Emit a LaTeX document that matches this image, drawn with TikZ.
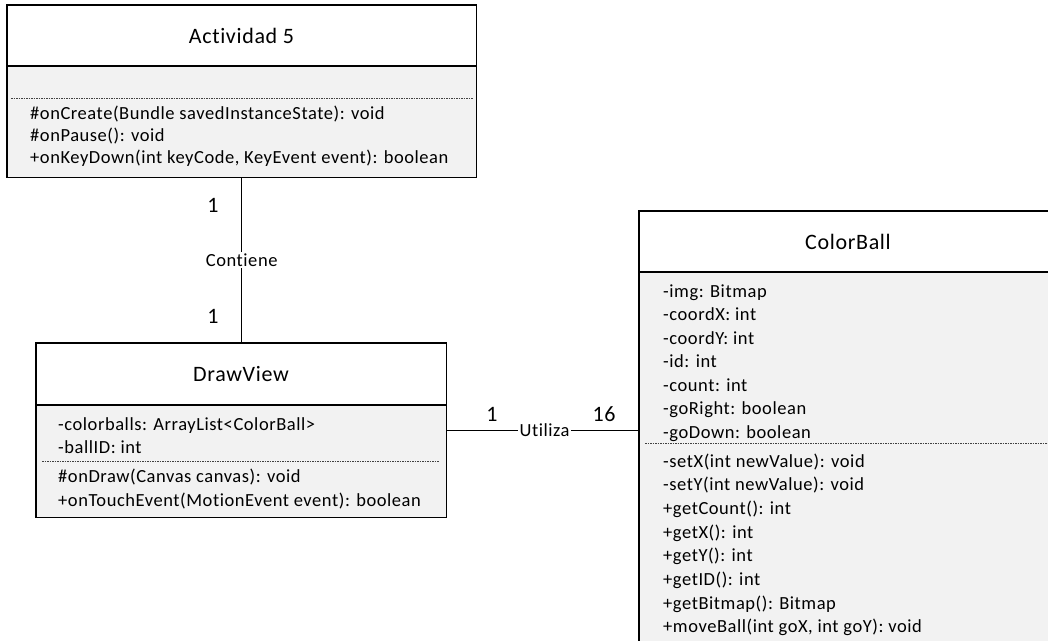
\documentclass[tikz,border=0pt]{standalone}
\usepackage{fontspec}
\setmainfont{Carlito}[Ligatures=NoCommon, LetterSpace=3]
\definecolor{bodygray}{HTML}{F2F2F2}
\definecolor{dotgray}{HTML}{404040}
\begin{document}
\begin{tikzpicture}[x=1pt,y=-1pt,
  classfill/.style={fill=bodygray, inner sep=0pt, anchor=north west},
  classline/.style={draw=black, line width=1.4pt},
  sepdot/.style={draw=dotgray, line width=0.7pt, dash pattern=on 1.6pt off 0.9pt},
  ttl/.style={anchor=base, inner sep=0pt, font=\fontsize{22}{26}\selectfont},
  mem/.style={anchor=base west, inner sep=0pt, font=\fontsize{18.5}{22}\selectfont},
  mult/.style={anchor=base, inner sep=0pt, font=\fontsize{22}{26}\selectfont},
  rel/.style={fill=white, inner sep=1.5pt, font=\fontsize{18.5}{22}\selectfont},
  conn/.style={draw=black, line width=1.2pt}]
\clip (0,0) rectangle (1048,640);
\fill[white] (0,0) rectangle (1048,640);

% ---- class Actividad 5 ----
\node[classfill, minimum width=469pt, minimum height=172pt] (act) at (7,5) {};
\fill[white] (7,5) rectangle (476,66);
\draw[classline] (7,66) -- (476,66);
\draw[classline] (act.north west) rectangle (act.south east);
\node[ttl] (actT) at (241.5,43) {Actividad 5};
\draw[sepdot] (11,98) -- (473,98);
\foreach \t [count=\i] in {\#onCreate(Bundle savedInstanceState): void,
    \#onPause(): void,
    {+onKeyDown(int keyCode, KeyEvent event): boolean}}
  \node[mem] (actM\i) at (30,{119.3+(\i-1)*22.3}) {\t};

% ---- class DrawView ----
\node[classfill, minimum width=410pt, minimum height=174pt] (dv) at (36,343) {};
\fill[white] (36,343) rectangle (446,405);
\draw[classline] (36,405) -- (446,405);
\draw[classline] (dv.north west) rectangle (dv.south east);
\node[ttl] (dvT) at (241,381.5) {DrawView};
\node[mem] (dvA1) at (58,430) {-colorballs: ArrayList<ColorBall>};
\node[mem] (dvA2) at (58,453.3) {-ballID: int};
\draw[sepdot] (42,461) -- (439,461);
\node[mem] (dvM1) at (58,482.7) {\#onDraw(Canvas canvas): void};
\node[mem] (dvM2) at (58,506) {+onTouchEvent(MotionEvent event): boolean};

% ---- class ColorBall ----
\node[classfill, minimum width=418pt, minimum height=460pt] (cb) at (639,211) {};
\fill[white] (639,211) rectangle (1057,272);
\draw[classline] (639,272) -- (1057,272);
\draw[classline] (cb.north west) rectangle (cb.south east);
\node[ttl] (cbT) at (848,249) {ColorBall};
\foreach \t [count=\i] in {-img: Bitmap, -coordX: int, -coordY: int, -id: int,
    -count: int, -goRight: boolean, -goDown: boolean}
  \node[mem] (cbA\i) at (663,{297+(\i-1)*23.5}) {\t};
\draw[sepdot] (645,443) -- (1050,443);
\foreach \t [count=\i] in {-setX(int newValue): void, -setY(int newValue): void,
    +getCount(): int, +getX(): int, +getY(): int, +getID(): int,
    +getBitmap(): Bitmap, {+moveBall(int goX, int goY): void}}
  \node[mem] (cbM\i) at (663,{467+(\i-1)*23.7}) {\t};

% ---- associations ----
\coordinate (actBot) at (act.south);
\coordinate (dvTop) at (act.south |- dv.north);
\draw[conn] (actBot) -- node[rel] (contiene) {Contiene} (dvTop);
\node[mult] (m1) at (213,212) {1};
\node[mult] (m2) at (213,323) {1};

\coordinate (dvRight) at (dv.east);
\coordinate (cbLeft) at (dv.east -| cb.west);
\draw[conn] (dvRight) -- node[rel, pos=0.51] (utiliza) {Utiliza} (cbLeft);
\node[mult] (m3) at (492,421) {1};
\node[mult] (m4) at (604,421) {16};
\end{tikzpicture}
\end{document}
